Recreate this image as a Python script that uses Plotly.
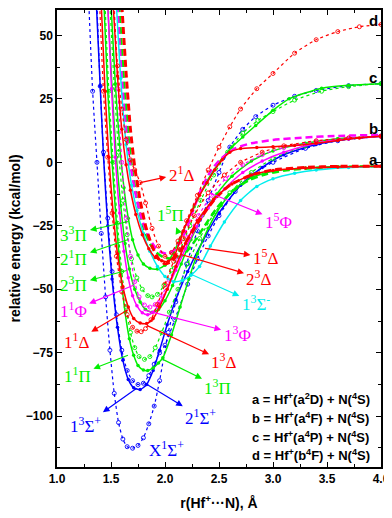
import plotly.graph_objects as go

# ---- potential energy curves (r in Angstrom, E in kcal/mol) ----
# blue
r_X1Sp = [1.295, 1.33, 1.37, 1.41, 1.45, 1.49, 1.53, 1.57, 1.61, 1.65, 1.70, 1.75, 1.80, 1.85, 1.90, 1.95, 2.03, 2.10, 2.20, 2.30, 2.40, 2.50, 2.60, 2.72, 2.84, 3.00, 3.20, 3.40, 3.70, 4.00]
e_X1Sp = [62, 28, 0, -28, -53, -74, -91, -102.5, -109, -112, -112.6, -111.5, -108.5, -103, -96, -86, -67, -55, -40, -27, -15, -4, 6, 13, 18, 22.5, 26, 28.3, 30.2, 31]
r_21Sp = [1.37, 1.40, 1.43, 1.47, 1.51, 1.55, 1.60, 1.65, 1.70, 1.75, 1.80, 1.85, 1.90, 1.95, 2.00, 2.09, 2.21, 2.30, 2.40, 2.50, 2.65, 2.80, 3.00, 3.30, 3.60, 4.00]
e_21Sp = [62, 30, 4, -22, -43, -60, -74, -82, -86, -87.5, -87, -84, -79.5, -75, -72, -62, -48, -38, -29, -21, -11.5, -5, 0, 5.5, 8.5, 10.3]
r_13Sp = [1.365, 1.40, 1.43, 1.47, 1.51, 1.56, 1.61, 1.66, 1.71, 1.77, 1.83, 1.89, 1.95, 2.02, 2.10, 2.21, 2.35, 2.50, 2.70, 2.90, 3.10, 3.40, 3.70, 4.00]
e_13Sp = [62, 30, 3, -25, -46, -65, -78, -85.5, -88.8, -89.5, -87.5, -82, -74, -64, -54, -43, -31, -20, -9, -2, 3, 7, 9.2, 10.3]
# red
r_11D = [1.395, 1.43, 1.47, 1.51, 1.55, 1.60, 1.65, 1.70, 1.74, 1.78, 1.82, 1.87, 1.93, 2.00, 2.08, 2.17, 2.27, 2.40, 2.55, 2.70, 2.90, 3.10, 3.40, 3.70, 4.00]
e_11D = [62, 28, 2, -20, -37, -51, -60, -65, -66.5, -66.7, -65.5, -62, -56, -48, -39, -30, -21, -12, -5, 0, 4, 6.5, 8.5, 9.6, 10.3]
r_13D = [1.41, 1.445, 1.48, 1.52, 1.56, 1.61, 1.66, 1.71, 1.77, 1.83, 1.89, 1.95, 2.02, 2.10, 2.19, 2.30, 2.45, 2.62, 2.80, 3.00, 3.30, 3.60, 4.00]
e_13D = [62, 28, 2, -20, -36, -49, -57, -61.5, -63.3, -63.5, -61.5, -57, -50, -41, -32, -23, -14.5, -8.5, -5, -3.2, -2.2, -1.8, -1.5]
r_23D = [1.52, 1.56, 1.60, 1.64, 1.68, 1.73, 1.79, 1.85, 1.91, 1.97, 2.03, 2.09, 2.17, 2.25, 2.32, 2.39, 2.46, 2.53, 2.60, 2.70, 2.85, 3.00, 3.20, 3.40, 3.60, 3.80, 4.00]
e_23D = [62, 34, 13, -1, -11, -20.5, -28.5, -34, -37.5, -38.8, -39, -36.5, -27, -19, -13, -8, -3, 1, 4, 5.4, 5.8, 6.1, 6.6, 7.5, 8.6, 9.6, 10.3]
r_21D = [1.525, 1.56, 1.60, 1.64, 1.68, 1.72, 1.77, 1.82, 1.88, 1.94, 2.00, 2.06, 2.12, 2.20, 2.30, 2.40, 2.50, 2.60, 2.70, 2.85, 3.00, 3.20, 3.40, 3.60, 3.80, 4.00]
e_21D = [62, 38, 21, 9, 1, -3, -8, -16, -26, -33, -37, -35.5, -31, -23, -13, -3, 6, 14, 21, 29, 35, 43, 48.3, 51.5, 53.4, 54.3]
r_15D = [1.60, 1.64, 1.68, 1.72, 1.77, 1.82, 1.88, 1.94, 2.00, 2.06, 2.12, 2.20, 2.30, 2.45, 2.60, 2.80, 3.00, 3.30, 3.60, 4.00]
e_15D = [62, 35, 13, -2, -15, -25, -33, -38, -40, -39, -36, -31, -24, -15, -9, -5, -3, -2, -1.6, -1.5]
# green
r_11P = [1.445, 1.48, 1.52, 1.56, 1.60, 1.64, 1.68, 1.72, 1.76, 1.81, 1.86, 1.91, 1.97, 2.04, 2.12, 2.21, 2.32, 2.45, 2.60, 2.80, 3.00, 3.30, 3.60, 4.00]
e_11P = [62, 28, 0, -24, -43, -57, -67, -73, -76.5, -77.6, -76.5, -73, -67, -59, -50, -40, -30, -20.5, -12, -4, 1.5, 6.5, 9, 10.3]
r_13P = [1.435, 1.47, 1.51, 1.55, 1.59, 1.63, 1.67, 1.71, 1.75, 1.80, 1.84, 1.89, 1.94, 1.98, 2.06, 2.14, 2.22, 2.30, 2.40, 2.52, 2.65, 2.80, 3.00, 3.30, 3.60, 4.00]
e_13P = [62, 28, 0, -24, -44, -59, -69.5, -76, -80, -81.8, -82, -81, -79, -77, -68, -57, -46, -36, -26, -17, -10.5, -6, -3.5, -2.2, -1.7, -1.5]
r_23P = [1.47, 1.51, 1.55, 1.59, 1.63, 1.67, 1.72, 1.77, 1.82, 1.88, 1.94, 2.00, 2.07, 2.15, 2.24, 2.35, 2.48, 2.62, 2.80, 3.00, 3.30, 3.60, 4.00]
e_23P = [62, 29, 2, -17, -32, -42, -50, -55, -58, -59, -58, -54.5, -48.5, -40, -30.5, -21, -12.5, -5.5, 0.5, 4.5, 7.5, 9.3, 10.3]
r_21P = [1.49, 1.53, 1.57, 1.61, 1.65, 1.69, 1.74, 1.79, 1.84, 1.88, 1.93, 1.99, 2.06, 2.14, 2.23, 2.33, 2.45, 2.58, 2.72, 2.86, 3.00, 3.20, 3.45, 3.70, 4.00]
e_21P = [62, 30, 4, -15, -28.5, -38, -45.5, -50, -52.5, -53, -52, -48.5, -42.5, -34.5, -25, -15, -5, 4, 11.5, 16.5, 20, 24.5, 28, 29.8, 31]
r_33P = [1.50, 1.54, 1.58, 1.62, 1.66, 1.70, 1.75, 1.80, 1.86, 1.93, 2.00, 2.08, 2.17, 2.27, 2.38, 2.50, 2.62, 2.72, 2.84, 3.00, 3.15, 3.45, 3.70, 4.00]
e_33P = [62, 31, 7, -10, -22, -30.5, -36.5, -40, -41.7, -42, -40.5, -35.5, -27, -17.5, -8, 0, 6, 10, 14.5, 20.5, 25, 29.2, 30.4, 31]
r_15P = [1.575, 1.62, 1.66, 1.70, 1.75, 1.80, 1.86, 1.92, 1.99, 2.08, 2.17, 2.26, 2.36, 2.48, 2.62, 2.78, 2.95, 3.15, 3.40, 3.70, 4.00]
e_15P = [62, 32, 11, -4, -16.5, -25.5, -32, -35.5, -37.5, -38, -36.5, -32, -25.5, -18, -11.5, -7, -4.5, -3, -2.2, -1.7, -1.5]
# magenta
r_13F = [1.47, 1.505, 1.54, 1.58, 1.62, 1.66, 1.70, 1.74, 1.79, 1.84, 1.89, 1.95, 2.02, 2.10, 2.19, 2.29, 2.40, 2.55, 2.72, 2.90, 3.10, 3.40, 3.70, 4.00]
e_13F = [62, 29, 2, -20, -35, -45.5, -52.5, -56.5, -59.2, -60, -59, -55.5, -50, -42.5, -34, -25.5, -18, -10.5, -4, 0.5, 4, 7.5, 9.3, 10.3]
r_11F = [1.53, 1.565, 1.60, 1.64, 1.68, 1.72, 1.76, 1.81, 1.86, 1.91, 1.97, 2.04, 2.12, 2.21, 2.31, 2.43, 2.56, 2.72, 2.90, 3.10, 3.40, 3.70, 4.00]
e_11F = [62, 29, 0, -22, -37, -47, -53, -56.2, -57, -56, -52.5, -46.5, -38.5, -29.5, -21, -13, -6.5, -1, 3, 5.8, 8.2, 9.5, 10.3]
r_15F = [1.56, 1.60, 1.64, 1.68, 1.73, 1.79, 1.85, 1.91, 1.97, 2.03, 2.10, 2.18, 2.26, 2.34, 2.43, 2.52, 2.65, 2.80, 3.00, 3.30, 3.60, 4.00]
e_15F = [62, 33, 13, -1, -13, -23, -29.5, -33.5, -35.5, -36, -34, -28, -19, -10, -3, 1.5, 5.5, 7.5, 8.8, 9.8, 10.4, 10.8]
# cyan
r_13Sm = [1.55, 1.59, 1.64, 1.69, 1.74, 1.80, 1.86, 1.93, 2.00, 2.08, 2.16, 2.24, 2.32, 2.42, 2.55, 2.70, 2.85, 3.00, 3.20, 3.40, 3.70, 4.00]
e_13Sm = [62, 33, 7, -9, -19, -28, -35, -41, -45, -47, -46.5, -44.5, -41, -33, -23.5, -15, -9.5, -6.5, -4.3, -3, -2, -1.5]

RED, BLUE, GREEN, MAG, CYAN = "#FF0000", "#0000FF", "#00EE00", "#FF00FF", "#00EEEE"

# (x, y, colour, spin multiplicity)
curves = [
    (r_X1Sp, e_X1Sp, BLUE, 1), (r_21Sp, e_21Sp, BLUE, 1), (r_13Sp, e_13Sp, BLUE, 3),
    (r_11P, e_11P, GREEN, 1), (r_13P, e_13P, GREEN, 3), (r_23P, e_23P, GREEN, 3),
    (r_21P, e_21P, GREEN, 1), (r_33P, e_33P, GREEN, 3), (r_15P, e_15P, GREEN, 5),
    (r_13F, e_13F, MAG, 3), (r_11F, e_11F, MAG, 1), (r_15F, e_15F, MAG, 5),
    (r_13Sm, e_13Sm, CYAN, 3),
    (r_11D, e_11D, RED, 1), (r_13D, e_13D, RED, 3), (r_23D, e_23D, RED, 3),
    (r_21D, e_21D, RED, 1), (r_15D, e_15D, RED, 5),
]

fig = go.Figure()
for x, y, col, mult in curves:
    if mult == 1:
        line = dict(color=col, width=1.2, dash="dot", shape="spline", smoothing=0.6)
        marker = dict(symbol="circle-open", size=4, color=col, line=dict(width=0.9, color=col))
        mode = "lines+markers"
    elif mult == 3:
        line = dict(color=col, width=1.5, shape="spline", smoothing=0.6)
        marker = dict(symbol="circle", size=3.5, color=col)
        mode = "lines+markers"
    else:
        w = 3 if col == RED else 2.5
        line = dict(color=col, width=w, dash="7px,4px", shape="spline", smoothing=0.6)
        marker = None
        mode = "lines"
    fig.add_trace(go.Scatter(x=x, y=y, mode=mode, line=line, marker=marker,
                             showlegend=False, hoverinfo="skip", cliponaxis=True))

# ---- state labels: text, label position, point on the curve the arrow leaves from, colour ----
labels = [
    ("2<sup>1</sup>Δ", 2.15, -4.5, (1.77, -8.0), RED),
    ("1<sup>5</sup>Π", 2.05, -20.3, (2.12, -27.3), GREEN),
    ("3<sup>3</sup>Π", 1.157, -28.1, (1.66, -23.3), GREEN),
    ("2<sup>1</sup>Π", 1.157, -37.7, (1.66, -30.4), GREEN),
    ("2<sup>3</sup>Π", 1.157, -48.1, (1.645, -42.6), GREEN),
    ("1<sup>1</sup>Φ", 1.15, -58.2, (1.72, -48.2), MAG),
    ("1<sup>1</sup>Δ", 1.18, -70.2, (1.657, -58.1), RED),
    ("1<sup>1</sup>Π", 1.19, -83.7, (1.657, -76.0), GREEN),
    ("1<sup>3</sup>Σ<sup>+</sup>", 1.26, -103.4, (1.738, -89.0), BLUE),
    ("2<sup>1</sup>Σ<sup>+</sup>", 2.33, -100.3, (1.815, -87.0), BLUE),
    ("X<sup>1</sup>Σ<sup>+</sup>", 2.01, -113.0, None, BLUE),
    ("1<sup>3</sup>Π", 2.49, -88.3, (1.98, -77.6), GREEN),
    ("1<sup>3</sup>Δ", 2.546, -78.3, (1.84, -64.4), RED),
    ("1<sup>3</sup>Φ", 2.667, -67.5, (1.80, -58.1), MAG),
    ("1<sup>3</sup>Σ<sup>-</sup>", 2.84, -55.5, (2.23, -43.9), CYAN),
    ("2<sup>3</sup>Δ", 2.87, -45.4, (2.14, -36.2), RED),
    ("1<sup>5</sup>Δ", 2.93, -37.3, (2.37, -33.9), RED),
    ("1<sup>5</sup>Φ", 3.05, -23.0, (2.42, -12.2), MAG),
]
for txt, lx, ly, tail, col in labels:
    font = dict(family="Liberation Serif", size=17, color=col)
    if tail is None:
        fig.add_annotation(x=lx, y=ly, text=txt, showarrow=False, font=font)
    else:
        # arrow runs from the curve to the label, head on the label side
        fig.add_annotation(x=tail[0], y=tail[1], ax=lx, ay=ly, axref="x", ayref="y",
                           text=txt, font=font, showarrow=True, arrowside="start",
                           startarrowhead=2, startarrowsize=1.1, arrowwidth=1.2,
                           arrowcolor=col, standoff=0, startstandoff=1)

# asymptote letters
asym_names = ["a", "b", "c", "d"]
asym_y = [1.3, 13.3, 33.3, 55.9]
for nm, yy in zip(asym_names, asym_y):
    fig.add_annotation(x=3.93, y=yy, text=nm, showarrow=False,
                       font=dict(family="Liberation Sans", size=15, color="black", weight="bold"))

# dissociation limits
limits = ["a = Hf<sup>+</sup>(a<sup>2</sup>D) + N(<sup>4</sup>S)",
          "b = Hf<sup>+</sup>(a<sup>4</sup>F) + N(<sup>4</sup>S)",
          "c = Hf<sup>+</sup>(a<sup>4</sup>P) + N(<sup>4</sup>S)",
          "d = Hf<sup>+</sup>(b<sup>4</sup>F) + N(<sup>4</sup>S)"]
limit_y = [-93.3, -100.6, -108.0, -115.3]
for t, yy in zip(limits, limit_y):
    fig.add_annotation(x=2.787, y=yy, text=t, showarrow=False, xanchor="left",
                       font=dict(family="Liberation Sans", size=13, color="black", weight="bold"))

# y axis title as a rotated annotation so it can sit close to the page edge
fig.add_annotation(x=-0.13, y=0.5, xref="paper", yref="paper", text="relative energy (kcal/mol)",
                   textangle=-90, showarrow=False, xanchor="center", yanchor="middle",
                   font=dict(family="Liberation Sans", size=14, color="black", weight="bold"))

axis_common = dict(showline=True, linecolor="black", linewidth=1.5, mirror="ticks",
                   ticks="inside", ticklen=5, tickwidth=1.2, tickcolor="black",
                   showgrid=False, zeroline=False,
                   tickfont=dict(family="Liberation Sans", size=12, color="black", weight="bold"),
                   minor=dict(ticks="inside", ticklen=3, tickwidth=1, tickcolor="black", showgrid=False))

fig.update_xaxes(range=[1.0, 4.0], tick0=1.0, dtick=0.5, tickformat=".1f",
                 title=dict(text="r(Hf<sup>+</sup>···N), Å", standoff=13,
                            font=dict(family="Liberation Sans", size=14, color="black", weight="bold")),
                 **axis_common)
fig.update_xaxes(minor_dtick=0.25)
fig.update_yaxes(range=[-120, 60], tick0=0, dtick=25, **axis_common)
fig.update_yaxes(minor_dtick=12.5)

# the page body adds an 8px offset, so the figure is sized to fit the 392x518 window
fig.update_layout(width=384, height=510, margin=dict(l=49, r=11, t=0, b=51),
                  plot_bgcolor="white", paper_bgcolor="white", showlegend=False)

fig.write_html("out.html")
